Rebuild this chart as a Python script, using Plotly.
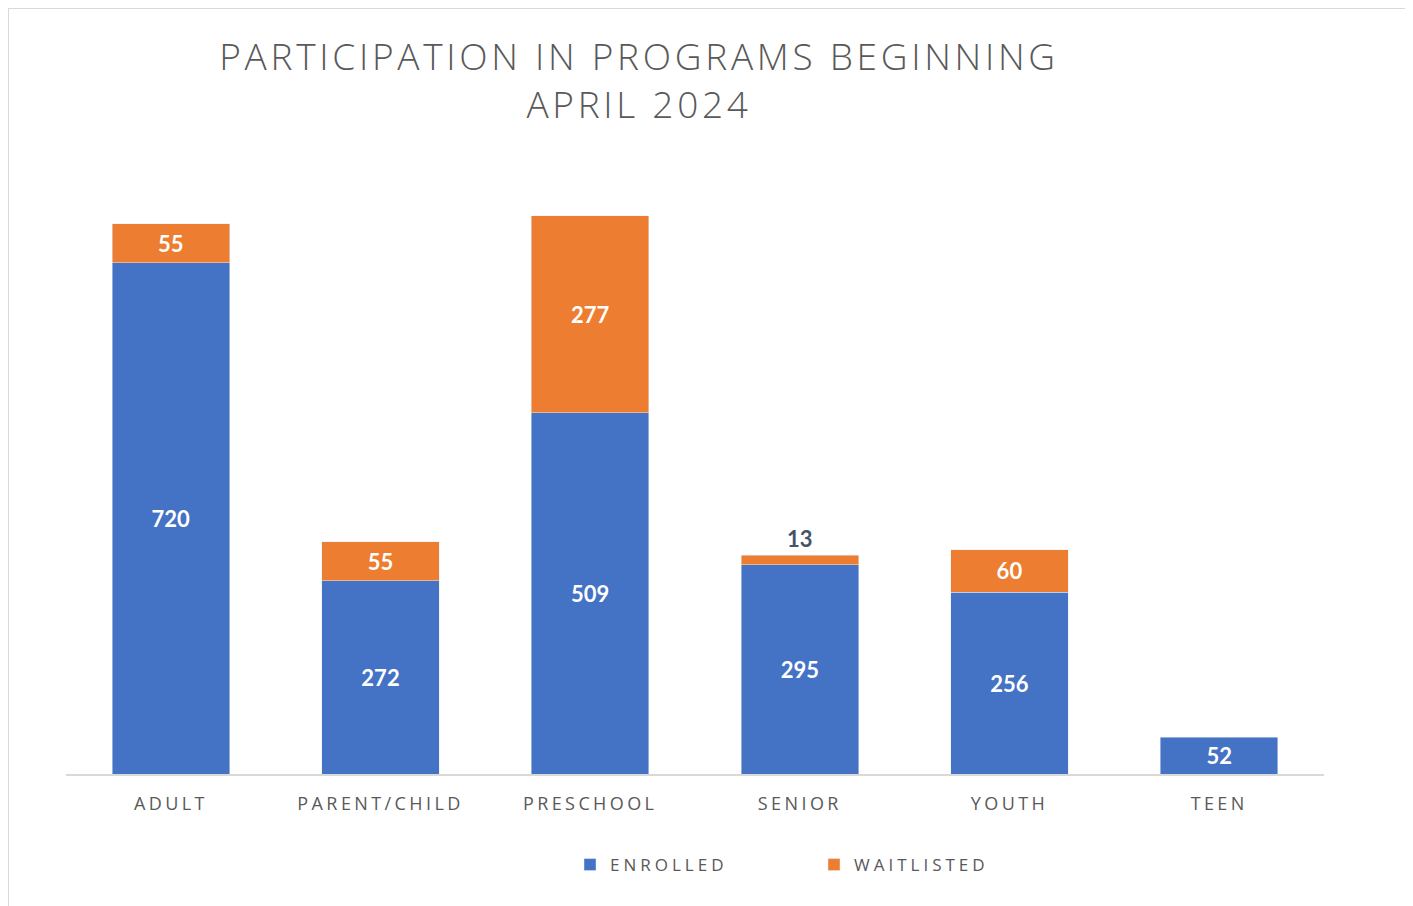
import plotly.graph_objects as go

categories = ["ADULT", "PARENT/CHILD", "PRESCHOOL", "SENIOR", "YOUTH", "TEEN"]
enrolled = [720, 272, 509, 295, 256, 52]
waitlisted = [55, 55, 277, 13, 60, None]

BLUE = "#4472C4"
ORANGE = "#ED7D31"
GRAY = "#595959"
LABEL_FONT = "Lato, Open Sans, sans-serif"
TEXT_FONT = "Open Sans, Lato, sans-serif"

# page body has an 8px margin, so the figure is sized to fit the window
W, H = 1405, 898
L, R, T, B = 58, W - 1316, 127, H - 766
PW, PH = W - L - R, H - T - B


def px_x(p):
    return (p - L) / PW


def px_y(q):
    return (H - B - q) / PH


def spaced(text, gap):
    # Excel-style letter spacing
    return f'<span style="letter-spacing:{gap}px">{text}</span>'


fig = go.Figure()
fig.add_trace(go.Bar(
    name=spaced("ENROLLED", 4), x=categories, y=enrolled, marker_color=BLUE,
    text=enrolled, textposition="inside", insidetextanchor="middle",
    textfont=dict(family=LABEL_FONT, size=22, color="white", weight="bold"),
))
wait_pos = ["outside" if (v is not None and v < 20) else "inside" for v in waitlisted]
fig.add_trace(go.Bar(
    name=spaced("WAITLISTED", 4), x=categories, y=waitlisted, marker_color=ORANGE,
    text=[v if v is not None else "" for v in waitlisted],
    textposition=wait_pos, insidetextanchor="middle",
    insidetextfont=dict(family=LABEL_FONT, size=22, color="white", weight="bold"),
    outsidetextfont=dict(family=LABEL_FONT, size=22, color="#44546A", weight="bold"),
    cliponaxis=False,
))

fig.update_layout(
    width=W, height=H,
    barmode="stack", bargap=0.44,
    paper_bgcolor="white", plot_bgcolor="white",
    margin=dict(l=L, r=R, t=T, b=B),
    font=dict(family=TEXT_FONT, color=GRAY),
    title=dict(
        text=spaced("PARTICIPATION IN PROGRAMS BEGINNING", 3.7) + "<br>"
        + spaced("APRIL 2024", 3.7),
        font=dict(family=TEXT_FONT, size=37, color=GRAY, weight=300),
        x=631 / W, xanchor="center", xref="container",
        y=1 - 62 / H, yanchor="top", yref="container",
    ),
    legend=dict(
        orientation="h", x=px_x(562), xanchor="left",
        y=px_y(857), yanchor="middle",
        font=dict(family=TEXT_FONT, size=17, color=GRAY),
        entrywidth=199, itemwidth=30, traceorder="normal",
    ),
    uniformtext=dict(minsize=10, mode="show"),
    shapes=[dict(
        type="rect", xref="paper", yref="paper",
        x0=px_x(0), x1=px_x(1402),
        y0=px_y(H + 20), y1=px_y(0),
        line=dict(color="#D9D9D9", width=2), fillcolor="rgba(0,0,0,0)",
        layer="below",
    )],
)
fig.update_xaxes(
    showline=True, linecolor="#D9D9D9", linewidth=2, showgrid=False,
    tickfont=dict(family=TEXT_FONT, size=18, color=GRAY), ticks="",
    ticklabelstandoff=12,
    tickvals=categories, ticktext=[spaced(c, 3.4) for c in categories],
)
fig.update_yaxes(visible=False, range=[0, 900], showgrid=False)

fig.write_html("out.html")
